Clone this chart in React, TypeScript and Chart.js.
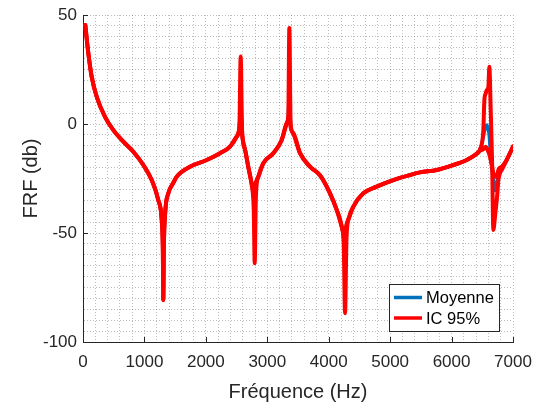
import React, { useEffect, useRef } from 'react';
import { Chart, registerables } from 'chart.js';

Chart.register(...registerables);

// Frequencies (Hz) at which the curves were read
const freqHz = [
  37, 87, 141, 223, 358, 494, 657, 819, 982, 1118, 1226, 1281, 1300, 1307, 1315, 1340, 1389, 1470, 1525, 1742,
  2014, 2230, 2393, 2502, 2545, 2567, 2590, 2640, 2690, 2746, 2780, 2795, 2815, 2854, 2935, 3098, 3235, 3316,
  3342, 3359, 3380, 3424, 3533, 3696, 3858, 4021, 4130, 4212, 4245, 4266, 4290, 4330, 4401, 4563, 4781, 5052,
  5323, 5486, 5758, 6029, 6246, 6382, 6463, 6517, 6534, 6556, 6572, 6599, 6615, 6637, 6659, 6680, 6707, 6724,
  6745, 6762, 6789, 6816, 6897, 7000,
];

// Upper bound of the 95% confidence interval (dB)
const upperDb = [
  45.4, 32.4, 21.7, 12.5, 3.3, -2.8, -8.1, -12.7, -18.8, -25.7, -34.9, -44, -58, -80.7, -58, -40, -31.8, -27, -24.2, -19.6,
  -16.5, -13.4, -10.4, -5.8, -1.5, 31, -3, -12, -19.6, -27.2, -28.7, -28, -26.5, -24.2, -18, -13.4, -7.3, 0.3,
  3.5, 44, 0, -4.3, -13.4, -19.6, -23.5, -31.8, -39.4, -47.1, -50, -49, -46, -43, -37.9, -31.8, -28.7, -25.7,
  -23.4, -22.2, -21.1, -18.8, -16.5, -14.2, -11.6, -2.8, 11, 14, 15.5, 17.1, 26.3, 6.4, -16.5, -48.6, -42.5, -38,
  -32, -25.7, -22.5, -21.1, -16.5, -10.4,
];

// Mean FRF (dB)
const meanDb = [
  45.4, 32.4, 21.7, 12.5, 3.3, -2.8, -8.1, -12.7, -18.8, -25.7, -34.9, -44, -58, -80.7, -58, -40, -31.8, -27, -24.2, -19.6,
  -16.5, -13.4, -10.4, -5.8, -1.8, 13, -4, -12, -19.6, -27.5, -35, -42.5, -28, -24.2, -18, -13.4, -7.3, 0.3,
  3, 19, -0.5, -4.3, -13.4, -19.6, -23.5, -31.8, -39.4, -47.1, -53, -62.4, -48, -43, -37.9, -31.8, -28.7, -25.7,
  -23.4, -22.2, -21.1, -18.8, -16.5, -14.2, -11.8, -5.8, -3.5, -1.5, -0.5, -2.5, -5.8, -15, -21, -25.7, -30.5, -29,
  -25.7, -23.5, -21.1, -20, -16.5, -10.4,
];

// Lower bound of the 95% confidence interval (dB)
const lowerDb = [
  45.4, 32.4, 21.7, 12.5, 3.3, -2.8, -8.1, -12.7, -18.8, -25.7, -34.9, -44, -58, -80.7, -58, -40, -31.8, -27, -24.2, -19.6,
  -16.5, -13.4, -10.4, -5.8, -2.2, 3.3, -5, -12, -19.6, -28, -40, -63.9, -33, -24.2, -18, -13.4, -7.3, 0.3,
  2.5, 5, -1.5, -4.3, -13.4, -19.6, -23.5, -31.8, -39.4, -47.1, -56, -86.8, -52, -43, -37.9, -31.8, -28.7, -25.7,
  -23.4, -22.2, -21.1, -18.8, -16.5, -14.2, -12.2, -11.6, -11, -10.4, -11, -12.7, -14, -16.5, -19.5, -22.6, -24, -24.2,
  -23, -21.1, -20, -19.6, -16.5, -10.4,
];

const xTickLabels = [0, 1000, 2000, 3000, 4000, 5000, 6000, 7000];
const yTickLabels = [-100, -50, 0, 50];
const seriesNames = ['Moyenne', 'IC 95%'];
const xTitle = 'Fréquence (Hz)';
const yTitle = 'FRF (db)';

const BLUE = '#0072BD';
const RED = '#FF0000';
const AXIS = '#262626';
const FONT = '"Liberation Sans", Arial, sans-serif';

const toPoints = (ys: number[]) => freqHz.map((f, i) => ({ x: f, y: ys[i] }));

const decorPlugin = {
  id: 'decor',
  afterDraw(chart: any) {
    const { ctx, chartArea, scales } = chart;
    const xs = scales.x;
    const ys = scales.y;
    ctx.save();
    // inward tick marks
    ctx.strokeStyle = AXIS;
    ctx.lineWidth = 1;
    ctx.beginPath();
    xTickLabels.forEach((v) => {
      const px = Math.round(xs.getPixelForValue(v)) + 0.5;
      ctx.moveTo(px, chartArea.bottom);
      ctx.lineTo(px, chartArea.bottom - 5);
    });
    yTickLabels.forEach((v) => {
      const py = Math.round(ys.getPixelForValue(v)) + 0.5;
      ctx.moveTo(chartArea.left, py);
      ctx.lineTo(chartArea.left + 5, py);
    });
    ctx.stroke();

    // axis titles
    ctx.fillStyle = AXIS;
    ctx.font = `20px ${FONT}`;
    ctx.textAlign = 'center';
    ctx.textBaseline = 'alphabetic';
    ctx.fillText(xTitle, (chartArea.left + chartArea.right) / 2, 398);
    ctx.save();
    ctx.translate(37, (chartArea.top + chartArea.bottom) / 2);
    ctx.rotate(-Math.PI / 2);
    ctx.fillText(yTitle, 0, 0);
    ctx.restore();

    // legend
    const bx = 389.5, by = 284.5, bw = 110, bh = 47;
    ctx.fillStyle = '#ffffff';
    ctx.fillRect(bx, by, bw, bh);
    ctx.strokeStyle = AXIS;
    ctx.lineWidth = 1;
    ctx.strokeRect(bx, by, bw, bh);
    const rows = [
      { name: seriesNames[0], color: BLUE, y: 297.5 },
      { name: seriesNames[1], color: RED, y: 318 },
    ];
    rows.forEach((r) => {
      ctx.strokeStyle = r.color;
      ctx.lineWidth = 3.5;
      ctx.beginPath();
      ctx.moveTo(394, r.y);
      ctx.lineTo(422, r.y);
      ctx.stroke();
      ctx.fillStyle = '#000000';
      ctx.font = `16.5px ${FONT}`;
      ctx.textAlign = 'left';
      ctx.textBaseline = 'middle';
      ctx.fillText(r.name, 426, r.y + 1);
    });
    ctx.restore();
  },
};

export default function App() {
  const canvasRef = useRef<HTMLCanvasElement | null>(null);

  useEffect(() => {
    if (!canvasRef.current) return;
    const lineCommon = {
      pointRadius: 0,
      pointHoverRadius: 0,
      fill: false,
      tension: 0.3,
      cubicInterpolationMode: 'monotone' as const,
      borderJoinStyle: 'round' as const,
      borderCapStyle: 'round' as const,
    };
    const chart = new Chart(canvasRef.current, {
      type: 'line',
      data: {
        datasets: [
          { ...lineCommon, label: seriesNames[0], data: toPoints(meanDb), borderColor: BLUE, borderWidth: 3.5, order: 2 },
          { ...lineCommon, label: seriesNames[1], data: toPoints(upperDb), borderColor: RED, borderWidth: 4, order: 1 },
          { ...lineCommon, label: seriesNames[1] + ' inf', data: toPoints(lowerDb), borderColor: RED, borderWidth: 4, order: 1 },
        ],
      },
      options: {
        responsive: false,
        animation: false,
        events: [],
        layout: { padding: { left: 0, right: 21, top: 15, bottom: 0 } },
        plugins: { legend: { display: false }, tooltip: { enabled: false }, title: { display: false } },
        scales: {
          x: {
            type: 'linear',
            min: 0,
            max: 7000,
            afterFit: (s: any) => { s.height = 61; s.paddingRight = 0; s.paddingLeft = 0; },
            ticks: {
              stepSize: 200,
              autoSkip: false,
              maxRotation: 0,
              padding: 10,
              color: AXIS,
              font: { family: FONT, size: 17 },
              callback: (v: any) => (Number(v) % 1000 === 0 ? String(v) : ''),
            },
            grid: { color: 'rgba(38,38,38,0.3)', lineWidth: 1, drawTicks: false },
            border: { display: true, color: AXIS, width: 1, dash: [1, 2] },
          },
          y: {
            type: 'linear',
            min: -100,
            max: 50,
            afterFit: (s: any) => { s.width = 83; s.paddingTop = 0; s.paddingBottom = 0; },
            ticks: {
              stepSize: 5,
              autoSkip: false,
              padding: 6,
              color: AXIS,
              font: { family: FONT, size: 17 },
              callback: (v: any) => (Number(v) % 50 === 0 ? String(v) : ''),
            },
            grid: { color: 'rgba(38,38,38,0.3)', lineWidth: 1, drawTicks: false },
            border: { display: true, color: AXIS, width: 1, dash: [1, 2] },
          },
        },
      },
      plugins: [decorPlugin],
    });
    return () => chart.destroy();
  }, []);

  return (
    <div style={{ position: 'absolute', left: 0, top: 0, width: 534, height: 403, background: '#fff' }}>
      <canvas ref={canvasRef} width={534} height={403} style={{ display: 'block' }} />
    </div>
  );
}
